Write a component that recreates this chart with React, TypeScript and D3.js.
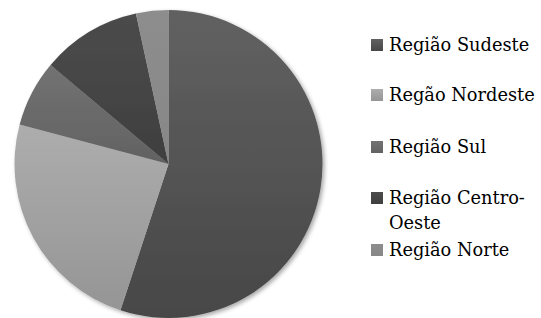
import { useEffect, useRef } from 'react';
import * as d3 from 'd3';

// chart data
const regions = ['Região Sudeste', 'Regão Nordeste', 'Região Sul', 'Região Centro-Oeste', 'Região Norte'];
const shares = [55.1, 24.1, 7.0, 10.5, 3.4];
const colorsTop = ['#616161', '#adadad', '#727272', '#4b4b4b', '#8d8d8d'];
const colorsBottom = ['#474747', '#959595', '#626262', '#3f3f3f', '#878787'];
const legendLines = [['Região Sudeste'], ['Regão Nordeste'], ['Região Sul'], ['Região Centro-', 'Oeste'], ['Região Norte']];
const legendRowY = [45, 95, 147, 198, 250];

export default function App() {
    const ref = useRef<SVGSVGElement>(null);

    useEffect(() => {
        const width = 541;
        const height = 318;
        const cx = 168.5;
        const cy = 164;
        const radius = 154;

        const svg = d3.select(ref.current);
        svg.selectAll('*').remove();
        svg.attr('width', width).attr('height', height);

        const defs = svg.append('defs');

        // one vertical gradient per region
        regions.forEach(function(r, i) {
            const g = defs.append('linearGradient')
                .attr('id', 'grad' + i)
                .attr('x1', 0).attr('y1', 0)
                .attr('x2', 0).attr('y2', 1);
            g.append('stop').attr('offset', '0%').attr('stop-color', colorsTop[i]);
            g.append('stop').attr('offset', '100%').attr('stop-color', colorsBottom[i]);
        });

        const shadow = defs.append('filter')
            .attr('id', 'shadow')
            .attr('x', '-10%').attr('y', '-10%')
            .attr('width', '120%').attr('height', '120%');
        shadow.append('feDropShadow')
            .attr('dx', 2).attr('dy', 2)
            .attr('stdDeviation', 2)
            .attr('flood-color', '#000')
            .attr('flood-opacity', 0.35);

        // pie
        const pie = d3.pie<number>().sort(null).value(function(d) { return d; });
        const arc = d3.arc<d3.PieArcDatum<number>>().innerRadius(0).outerRadius(radius);

        const pieGroup = svg.append('g')
            .attr('transform', 'translate(' + cx + ',' + cy + ')')
            .attr('filter', 'url(#shadow)');

        pieGroup.selectAll('path')
            .data(pie(shares)).enter()
            .append('path')
            .attr('d', arc)
            .attr('fill', function(d, i) { return 'url(#grad' + i + ')'; });

        // legend
        const legend = svg.append('g');
        const lineHeight = 25;
        legendLines.forEach(function(lines, i) {
            const y = legendRowY[i];
            legend.append('rect')
                .attr('x', 371)
                .attr('y', y - 6)
                .attr('width', 12)
                .attr('height', 12)
                .attr('fill', 'url(#grad' + i + ')');
            lines.forEach(function(t, j) {
                legend.append('text')
                    .attr('x', 389)
                    .attr('y', y + 6 + j * lineHeight)
                    .attr('font-family', 'DejaVu Serif')
                    .attr('font-size', 17.8)
                    .attr('fill', '#000')
                    .text(t);
            });
        });
    }, []);

    return (
        <svg ref={ref} style={{ position: 'absolute', left: 0, top: 0 }} />
    );
}
